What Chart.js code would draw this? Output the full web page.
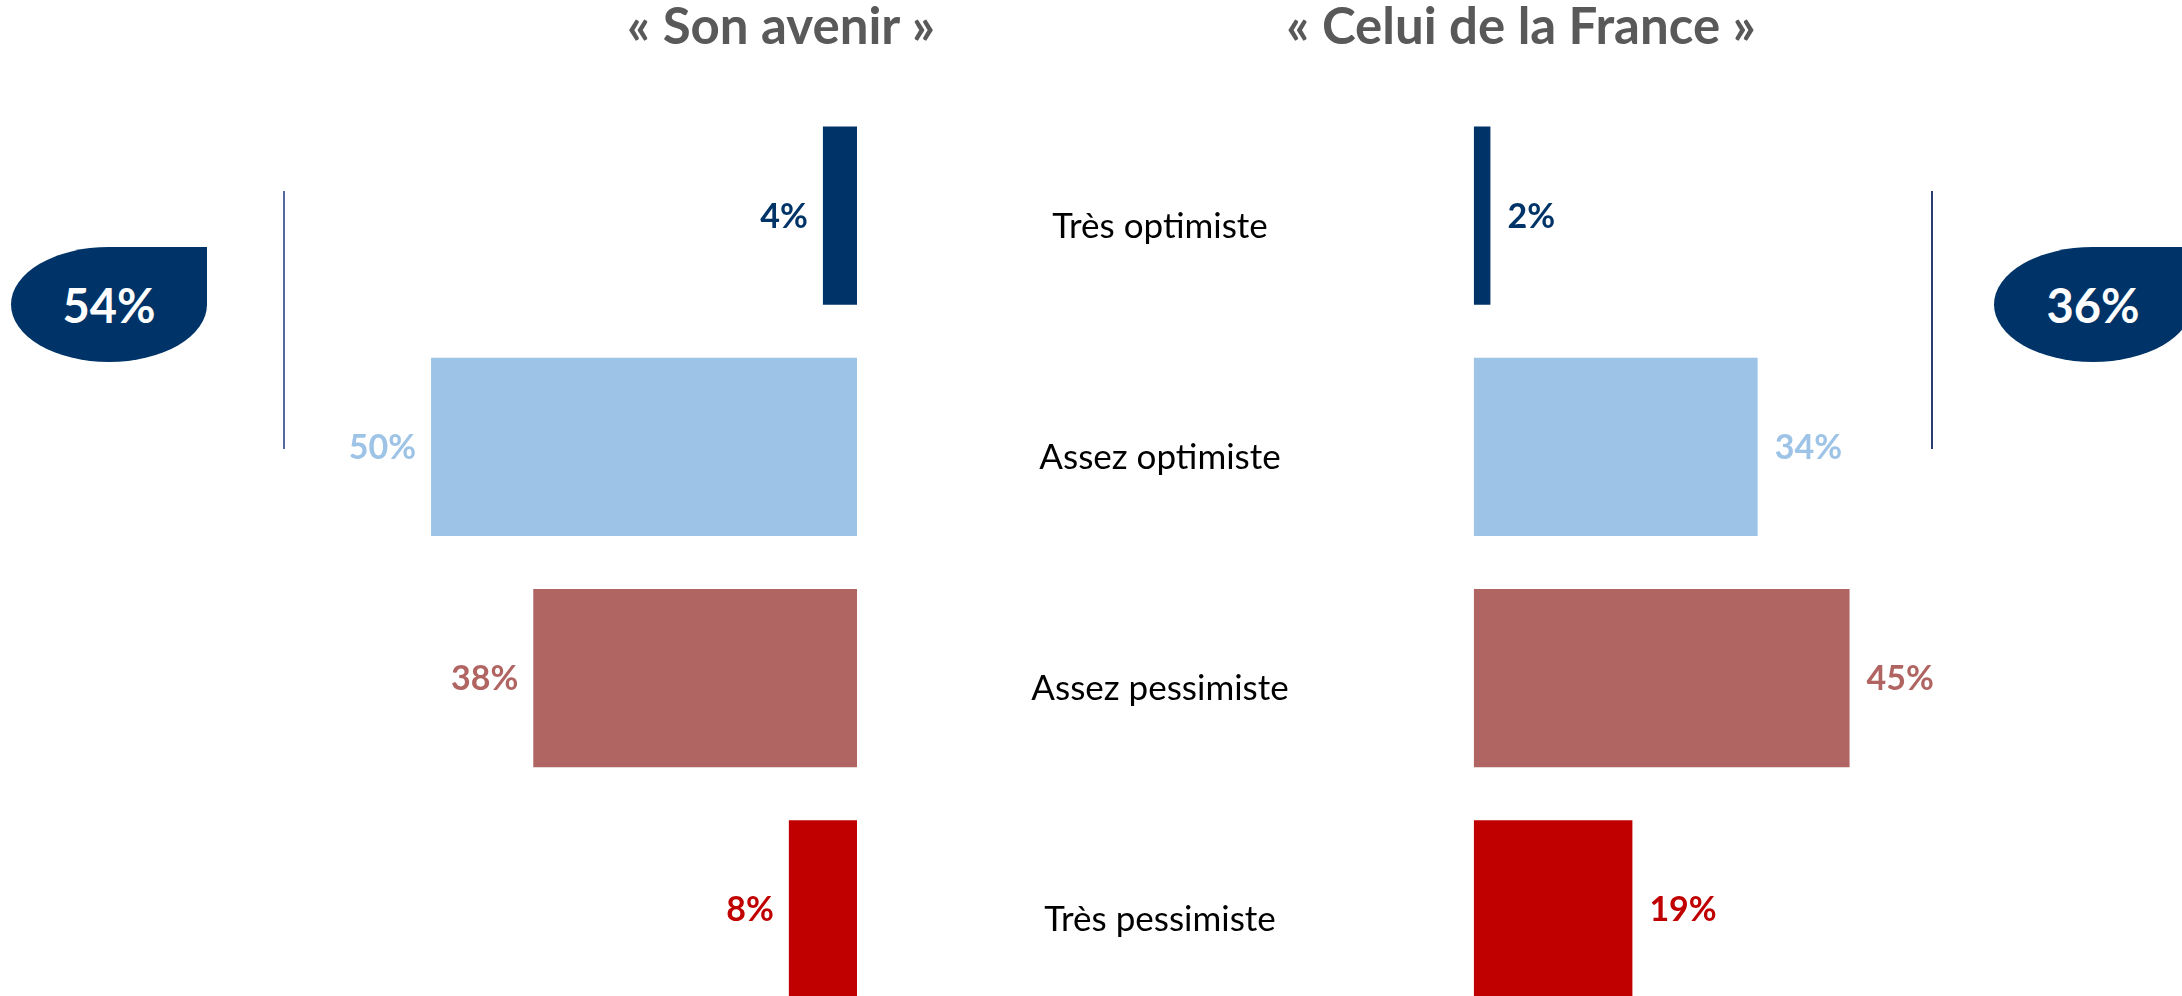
<!DOCTYPE html>
<html lang="fr">
<head>
<meta charset="utf-8">
<title>Optimisme : son avenir et celui de la France</title>
<script src="https://cdn.jsdelivr.net/npm/chart.js@4"></script>
<style>
  html, body { margin: 0; padding: 0; width: 2182px; height: 996px; overflow: hidden; background: #ffffff; }
  body { position: relative; font-family: Lato, "Open Sans", sans-serif; }
  .title { position: absolute; top: -1px; font-weight: 700; font-size: 51px; line-height: 51px;
           color: #595959; white-space: nowrap; transform: translateX(-50%); }
  .wrap { position: absolute; }
  .badge { position: absolute; top: 247px; width: 196px; height: 115px; background: #003468;
           border-radius: 50% 0 50% 50% / 50% 0 50% 50%; color: #ffffff; font-weight: 700;
           font-size: 47px; display: flex; align-items: center; justify-content: center; }
  .bracket { position: absolute; top: 191px; height: 258px; width: 2px; }
</style>
</head>
<body>
<div class="title" id="titleLeft" style="left:781px"></div>
<div class="title" id="titleRight" style="left:1521px"></div>

<div class="bracket" style="left:283px; background:#5468a0"></div>
<div class="bracket" style="left:1931px; background:#2a3c70"></div>
<div class="badge" id="badgeLeft" style="left:11px"></div>
<div class="badge" id="badgeRight" style="left:1994px; width:198px"></div>

<div class="wrap" style="left:0; top:100px; width:857px; height:925px"><canvas id="chartLeft"></canvas></div>
<div class="wrap" style="left:940px; top:100px; width:1242px; height:925px"><canvas id="chartRight"></canvas></div>

<script>
// Réponses (en %)
const categories = ['Très optimiste', 'Assez optimiste', 'Assez pessimiste', 'Très pessimiste'];
const sonAvenir = [4, 50, 38, 8];
const celuiDeLaFrance = [2, 34, 45, 19];
const titles = ['« Son avenir »', '« Celui de la France »'];
const barColors = ['#003468', '#9DC3E6', '#B06563', '#C00000'];

document.getElementById('titleLeft').textContent = titles[0];
document.getElementById('titleRight').textContent = titles[1];
// Total optimistes = très + assez optimiste
document.getElementById('badgeLeft').textContent = (sonAvenir[0] + sonAvenir[1]) + '%';
document.getElementById('badgeRight').textContent = (celuiDeLaFrance[0] + celuiDeLaFrance[1]) + '%';

// Pourcentage affiché au bout de chaque barre
const valueLabels = {
  id: 'valueLabels',
  afterDatasetsDraw(chart, args, opts) {
    const ctx = chart.ctx;
    const meta = chart.getDatasetMeta(0);
    const data = chart.data.datasets[0].data;
    ctx.save();
    ctx.font = '700 34px Lato, "Open Sans", sans-serif';
    ctx.textBaseline = 'alphabetic';
    meta.data.forEach((bar, i) => {
      ctx.fillStyle = barColors[i];
      const txt = data[i] + '%';
      if (opts.side === 'left') {
        ctx.textAlign = 'right';
        ctx.fillText(txt, bar.x - 15, bar.y + 12);
      } else {
        ctx.textAlign = 'left';
        ctx.fillText(txt, bar.x + 17, bar.y + 12);
      }
    });
    ctx.restore();
  }
};

// Libellés des modalités, centrés entre les deux graphiques
const categoryLabels = {
  id: 'categoryLabels',
  afterDraw(chart, args, opts) {
    if (!opts.show) return;
    const ctx = chart.ctx;
    const y = chart.scales.y;
    ctx.save();
    ctx.font = '400 35px Lato, "Open Sans", sans-serif';
    ctx.fillStyle = '#000000';
    ctx.textAlign = 'center';
    ctx.textBaseline = 'alphabetic';
    categories.forEach((c, i) => {
      ctx.fillText(c, opts.centerX, y.getPixelForValue(i) + 22);
    });
    ctx.restore();
  }
};

function makeChart(id, values, side, xMax, padLeft) {
  return new Chart(document.getElementById(id), {
    type: 'bar',
    data: {
      labels: categories,
      datasets: [{
        data: values,
        backgroundColor: barColors,
        borderWidth: 0,
        categoryPercentage: 1,
        barPercentage: 0.77
      }]
    },
    options: {
      indexAxis: 'y',
      responsive: true,
      maintainAspectRatio: false,
      animation: false,
      layout: { padding: { left: padLeft, right: 0, top: 0, bottom: 0 } },
      scales: {
        x: { display: false, min: 0, max: xMax, reverse: side === 'left' },
        y: { display: false }
      },
      plugins: {
        legend: { display: false },
        tooltip: { enabled: false },
        valueLabels: { side: side },
        categoryLabels: { show: side === 'right', centerX: 220 }
      }
    },
    plugins: [valueLabels, categoryLabels]
  });
}

makeChart('chartLeft', sonAvenir, 'left', 100.6, 0);
makeChart('chartRight', celuiDeLaFrance, 'right', 84.8, 533.7);
</script>
</body>
</html>
